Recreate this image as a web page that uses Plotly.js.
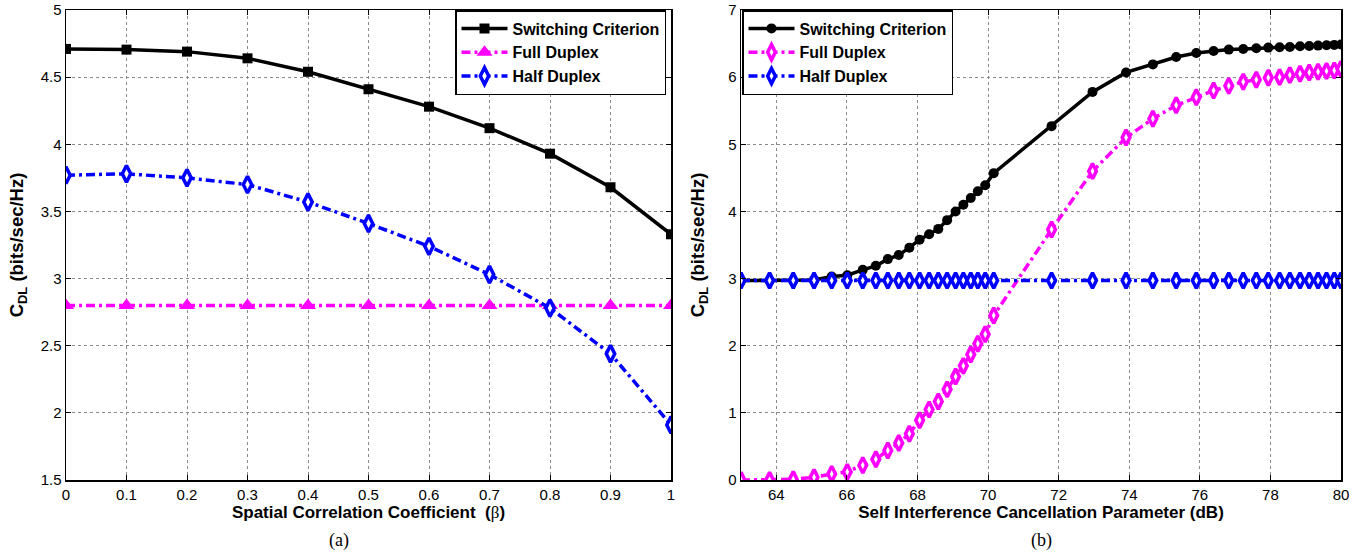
<!DOCTYPE html>
<html>
<head>
<meta charset="utf-8">
<script src="https://cdn.plot.ly/plotly-3.0.1.min.js"></script>
<style>html,body{margin:0;padding:0;background:#fff;}#chart{width:1369px;height:555px;}</style>
</head>
<body>
<div id="chart"></div>
<script>
// ---- Panel (a) data ----
const betaValues = [0, 0.1, 0.2, 0.3, 0.4, 0.5, 0.6, 0.7, 0.8, 0.9, 1];
const switchingA = [4.71, 4.705, 4.69, 4.64, 4.54, 4.41, 4.28, 4.12, 3.93, 3.68, 3.33];
const fullDuplexA = [2.80, 2.80, 2.80, 2.80, 2.80, 2.80, 2.80, 2.80, 2.80, 2.80, 2.80];
const halfDuplexA = [3.77, 3.78, 3.75, 3.70, 3.57, 3.41, 3.24, 3.03, 2.78, 2.44, 1.91];

// ---- Panel (b) data ----
const sicValues = [63.0, 63.81, 64.48, 65.07, 65.57, 66.01, 66.45, 66.82, 67.16, 67.47,
  67.77, 68.06, 68.33, 68.59, 68.84, 69.08, 69.30, 69.51, 69.71, 69.92,
  70.16, 71.80, 72.96, 73.91, 74.67, 75.33, 75.90, 76.39, 76.82, 77.23,
  77.60, 77.94, 78.26, 78.55, 78.84, 79.10, 79.35, 79.59, 79.81, 80.0];
const switchingB = [2.97, 2.97, 2.97, 2.98, 3.03, 3.05, 3.13, 3.19, 3.29, 3.35,
  3.46, 3.58, 3.66, 3.74, 3.87, 4.00, 4.10, 4.20, 4.30, 4.39,
  4.57, 5.27, 5.78, 6.07, 6.19, 6.30, 6.36, 6.39, 6.41, 6.42,
  6.43, 6.44, 6.445, 6.45, 6.46, 6.465, 6.47, 6.475, 6.48, 6.485];
const fullDuplexB = [0.0, 0.0, 0.01, 0.04, 0.09, 0.12, 0.22, 0.31, 0.44, 0.55,
  0.69, 0.89, 1.05, 1.17, 1.35, 1.54, 1.70, 1.87, 2.03, 2.17,
  2.45, 3.73, 4.60, 5.10, 5.38, 5.58, 5.70, 5.80, 5.87, 5.93,
  5.96, 5.99, 6.00, 6.03, 6.05, 6.07, 6.08, 6.09, 6.10, 6.12];
const halfDuplexB = [2.97, 2.97, 2.97, 2.97, 2.97, 2.97, 2.97, 2.97, 2.97, 2.97,
  2.97, 2.97, 2.97, 2.97, 2.97, 2.97, 2.97, 2.97, 2.97, 2.97,
  2.97, 2.97, 2.97, 2.97, 2.97, 2.97, 2.97, 2.97, 2.97, 2.97,
  2.97, 2.97, 2.97, 2.97, 2.97, 2.97, 2.97, 2.97, 2.97, 2.97];

const seriesNames = ['Switching Criterion', 'Full Duplex', 'Half Duplex'];
const xTicksA = [0, 0.1, 0.2, 0.3, 0.4, 0.5, 0.6, 0.7, 0.8, 0.9, 1];
const xTickTextA = ['0', '0.1', '0.2', '0.3', '0.4', '0.5', '0.6', '0.7', '0.8', '0.9', '1'];
const yTicksA = [1.5, 2, 2.5, 3, 3.5, 4, 4.5, 5];
const yTickTextA = ['1.5', '2', '2.5', '3', '3.5', '4', '4.5', '5'];
const xTicksB = [64, 66, 68, 70, 72, 74, 76, 78, 80];
const yTicksB = [0, 1, 2, 3, 4, 5, 6, 7];

const BLACK = '#000000', MAG = '#ff00ff', BLUE = '#0000ff';
const DASHDOT = '9px,4px,3px,4px';

const traces = [
  {x: betaValues, y: switchingA, name: seriesNames[0], type: 'scatter', mode: 'lines+markers',
   line: {color: BLACK, width: 3.5}, marker: {symbol: 'square', size: 10, color: BLACK},
   xaxis: 'x', yaxis: 'y', legend: 'legend'},
  {x: betaValues, y: fullDuplexA, name: seriesNames[1], type: 'scatter', mode: 'lines+markers',
   line: {color: MAG, width: 3.5, dash: DASHDOT}, marker: {symbol: 'triangle-up', size: 14, color: MAG},
   xaxis: 'x', yaxis: 'y', legend: 'legend'},
  {x: betaValues, y: halfDuplexA, name: seriesNames[2], type: 'scatter', mode: 'lines+markers',
   line: {color: BLUE, width: 3.5, dash: DASHDOT}, marker: {symbol: 'diamond-tall', size: 12, color: '#ffffff', line: {color: BLUE, width: 3.5}},
   xaxis: 'x', yaxis: 'y', legend: 'legend'},
  {x: sicValues, y: switchingB, name: seriesNames[0], type: 'scatter', mode: 'lines+markers',
   line: {color: BLACK, width: 3.5}, marker: {symbol: 'circle', size: 10, color: BLACK},
   xaxis: 'x2', yaxis: 'y2', legend: 'legend2'},
  {x: sicValues, y: fullDuplexB, name: seriesNames[1], type: 'scatter', mode: 'lines+markers',
   line: {color: MAG, width: 3.5, dash: DASHDOT}, marker: {symbol: 'diamond-tall', size: 11, color: '#ffffff', line: {color: MAG, width: 3.5}},
   xaxis: 'x2', yaxis: 'y2', legend: 'legend2'},
  {x: sicValues, y: halfDuplexB, name: seriesNames[2], type: 'scatter', mode: 'lines+markers',
   line: {color: BLUE, width: 3.5, dash: DASHDOT}, marker: {symbol: 'diamond-tall', size: 11, color: '#ffffff', line: {color: BLUE, width: 3.5}},
   xaxis: 'x2', yaxis: 'y2', legend: 'legend2'}
];

const tickFont = {family: 'Liberation Sans, Arial, sans-serif', size: 15, color: '#000'};
const titleFont = {family: 'Liberation Sans, Arial, sans-serif', size: 17, color: '#000', weight: 'bold'};
const yTitleFont = {family: 'Liberation Sans, Arial, sans-serif', size: 18.5, color: '#000', weight: 'bold'};

function axisBase() {
  return {
    showline: true, linecolor: '#000', linewidth: 1.5, mirror: 'ticks',
    ticks: 'inside', ticklen: 5, tickcolor: '#000', tickwidth: 1,
    showgrid: true, gridcolor: '#8a8a8a', griddash: 'dot', gridwidth: 1,
    zeroline: false, tickfont: tickFont, automargin: false
  };
}

const legendBase = {
  bgcolor: '#ffffff', bordercolor: '#000', borderwidth: 1.5,
  font: {family: 'Liberation Sans, Arial, sans-serif', size: 16, color: '#000', weight: 'bold'},
  xanchor: 'left', yanchor: 'top', tracegroupgap: 0, itemwidth: 46
};

const layout = {
  width: 1369, height: 555,
  margin: {l: 0, r: 0, t: 0, b: 0},
  paper_bgcolor: '#ffffff', plot_bgcolor: '#ffffff',
  showlegend: true,
  xaxis: Object.assign(axisBase(), {
    domain: [66 / 1369, 671 / 1369], range: [0, 1],
    tickvals: xTicksA, ticktext: xTickTextA, anchor: 'y',
    title: {text: 'Spatial Correlation Coefficient  (<span style="font-family:Liberation Serif;font-weight:normal">β</span>)', font: titleFont, standoff: 4}
  }),
  yaxis: Object.assign(axisBase(), {
    domain: [75 / 555, 545 / 555], range: [1.5, 5],
    tickvals: yTicksA, ticktext: yTickTextA, anchor: 'x',
    title: {text: 'C<sub>DL</sub> (bits/sec/Hz)', font: yTitleFont, standoff: 12}
  }),
  xaxis2: Object.assign(axisBase(), {
    domain: [741 / 1369, 1341 / 1369], range: [63, 80],
    tickvals: xTicksB, anchor: 'y2',
    title: {text: 'Self Interference Cancellation Parameter (dB)', font: titleFont, standoff: 4}
  }),
  yaxis2: Object.assign(axisBase(), {
    domain: [75 / 555, 545 / 555], range: [0, 7],
    tickvals: yTicksB, anchor: 'x2',
    title: {text: 'C<sub>DL</sub> (bits/sec/Hz)', font: yTitleFont, standoff: 18}
  }),
  legend: Object.assign({}, legendBase, {x: 455 / 1369, y: 545 / 555}),
  legend2: Object.assign({}, legendBase, {x: 742 / 1369, y: 545 / 555}),
  annotations: [
    {text: '(a)', x: 339 / 1369, y: 15 / 555, xref: 'paper', yref: 'paper', showarrow: false,
     xanchor: 'center', yanchor: 'middle', font: {family: 'Liberation Serif, Times New Roman, serif', size: 18, color: '#000'}},
    {text: '(b)', x: 1041 / 1369, y: 15 / 555, xref: 'paper', yref: 'paper', showarrow: false,
     xanchor: 'center', yanchor: 'middle', font: {family: 'Liberation Serif, Times New Roman, serif', size: 18, color: '#000'}}
  ]
};

Plotly.newPlot('chart', traces, layout, {displayModeBar: false, staticPlot: true});
</script>
</body>
</html>
